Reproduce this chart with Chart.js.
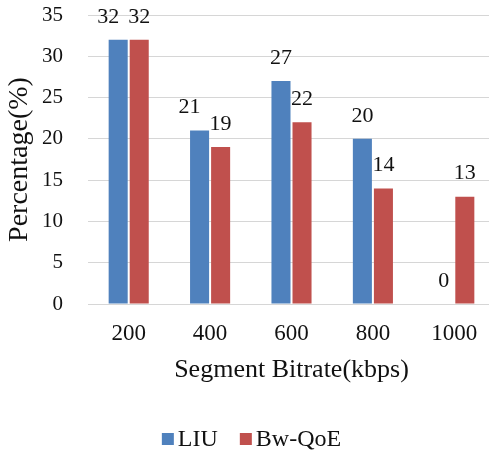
<!DOCTYPE html>
<html>
<head>
<meta charset="utf-8">
<script src="https://cdn.jsdelivr.net/npm/chart.js@4/dist/chart.umd.min.js"></script>
<style>
  html, body { margin: 0; padding: 0; background: #ffffff; overflow: hidden; }
  /* the plot runs a few pixels past the right edge of the frame */
  #wrap { width: 489px; height: 454px; overflow: hidden; }
  #c { display: block; }
</style>
</head>
<body>
<div id="wrap"><canvas id="c" width="495" height="454"></canvas></div>
<script>
const categories = ['200', '400', '600', '800', '1000'];
const liuValues = [32, 21, 27, 20, 0];
const bwQoeValues = [32, 19, 22, 14, 13];
const yTicks = [0, 5, 10, 15, 20, 25, 30, 35];

const FONT = '"Liberation Serif", "Times New Roman", serif';
const TEXT = '#111111';

// Writes each bar's value above it; when the two labels of one category sit
// at the same height and would touch, the left one is nudged aside.
const valueLabels = {
  id: 'valueLabels',
  afterDatasetsDraw(chart) {
    const ctx = chart.ctx;
    const size = 22, minGap = 9;
    ctx.save();
    ctx.font = size + 'px ' + FONT;
    ctx.fillStyle = TEXT;
    ctx.textAlign = 'center';
    ctx.textBaseline = 'middle';
    const metas = chart.data.datasets.map((ds, i) => chart.getDatasetMeta(i));
    chart.data.labels.forEach((_, j) => {
      const items = metas.map((meta, i) => {
        const text = String(chart.data.datasets[i].data[j]);
        const bar = meta.data[j];
        return { text, x: bar.x, y: bar.y - 23, w: ctx.measureText(text).width };
      });
      for (let k = 1; k < items.length; k++) {
        const a = items[k - 1], b = items[k];
        if (Math.abs(a.y - b.y) < size) {
          const need = (a.w + b.w) / 2 + minGap;
          const have = b.x - a.x;
          if (have < need) a.x -= need - have;
        }
      }
      items.forEach(it => ctx.fillText(it.text, it.x, it.y));
    });
    ctx.restore();
  }
};

// Compact legend row under the axis title: square swatch, small gap, series name
const bottomLegend = {
  id: 'bottomLegend',
  afterDraw(chart) {
    const ctx = chart.ctx;
    const box = 12, gap = 4, itemGap = 22, cy = 440;
    ctx.save();
    ctx.font = '24px ' + FONT;
    ctx.textBaseline = 'middle';
    ctx.textAlign = 'left';
    const items = chart.data.datasets.map(ds => ({
      text: ds.label, color: ds.backgroundColor, w: ctx.measureText(ds.label).width
    }));
    const total = items.reduce((s, it) => s + box + gap + it.w, 0) + itemGap * (items.length - 1);
    let x = 251.5 - total / 2;
    items.forEach(it => {
      ctx.fillStyle = it.color;
      ctx.fillRect(x, cy - box / 2 - 1, box, box);
      ctx.fillStyle = TEXT;
      ctx.fillText(it.text, x + box + gap, cy);
      x += box + gap + it.w + itemGap;
    });
    ctx.restore();
  }
};

new Chart(document.getElementById('c'), {
  type: 'bar',
  data: {
    labels: categories,
    datasets: [
      { label: 'LIU', data: liuValues, backgroundColor: '#4F81BD' },
      { label: 'Bw-QoE', data: bwQoeValues, backgroundColor: '#C0504D' }
    ]
  },
  options: {
    responsive: false,
    animation: false,
    devicePixelRatio: 1,
    layout: { padding: { top: 15, right: 0, left: 0, bottom: 68 } },
    datasets: { bar: { categoryPercentage: 0.517, barPercentage: 0.905 } },
    scales: {
      x: {
        afterFit(axis) { axis.height = 82; },
        grid: { display: false, drawTicks: false },
        border: { display: false },
        ticks: { color: TEXT, font: { family: FONT, size: 23 }, padding: 16 },
        title: { display: true, text: 'Segment Bitrate(kbps)', color: TEXT,
                 font: { family: FONT, size: 26 }, padding: { top: 4, bottom: 0 } }
      },
      y: {
        min: 0, max: 35,
        afterFit(axis) {
          axis.width = 88;
          axis.paddingTop = 0;
          axis.paddingBottom = 0;
        },
        afterBuildTicks(axis) { axis.ticks = yTicks.map(v => ({ value: v })); },
        grid: { color: '#d6d6d6', lineWidth: 1, drawTicks: false },
        border: { display: false },
        ticks: { color: TEXT, font: { family: FONT, size: 21 }, padding: 25 },
        title: { display: true, text: 'Percentage(%)', color: TEXT,
                 font: { family: FONT, size: 28 }, padding: { top: 3, bottom: 0 } }
      }
    },
    plugins: {
      legend: { display: false },
      tooltip: { enabled: false }
    }
  },
  plugins: [valueLabels, bottomLegend]
});
</script>
</body>
</html>
